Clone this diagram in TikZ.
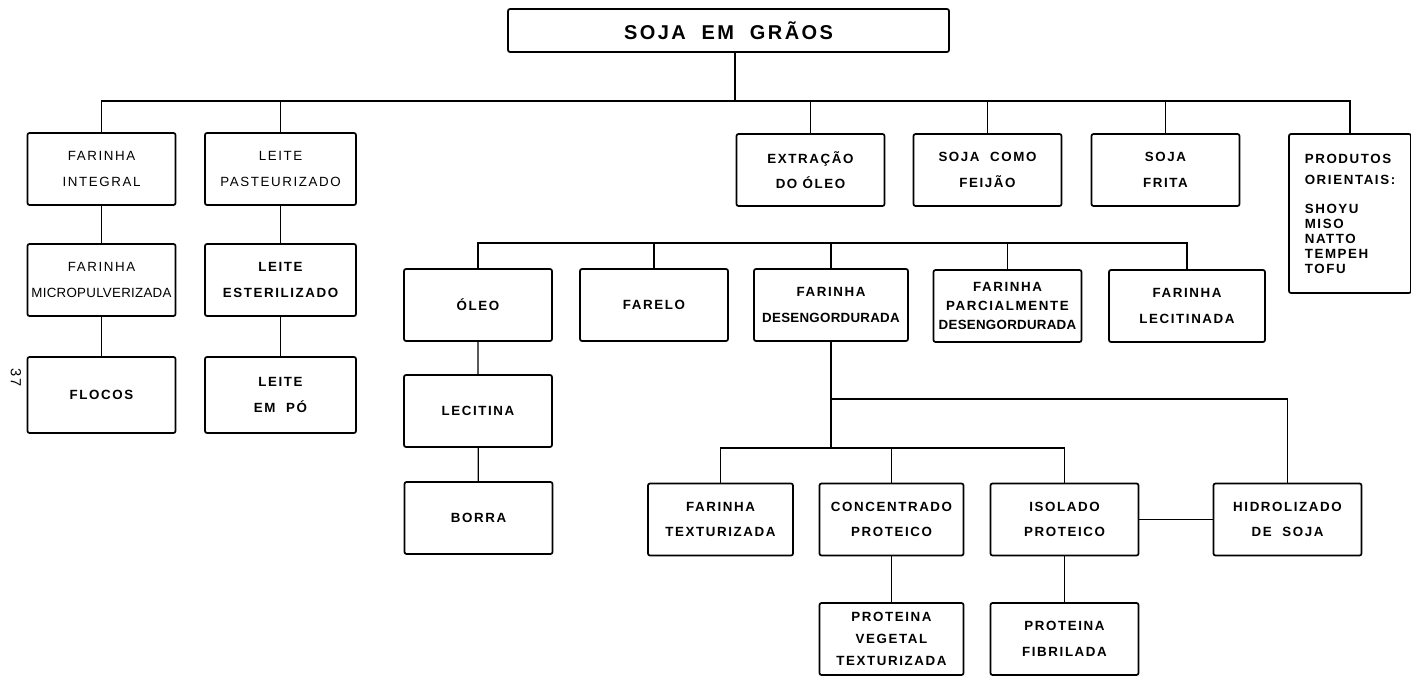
\documentclass[tikz,border=0pt]{standalone}
\usepackage{fontspec}
\setmainfont{Liberation Sans}[LetterSpace=12]
\newfontfamily\tightfont{Liberation Sans}[LetterSpace=2]

\tikzset{
  box/.style={draw, line width=1.3pt, rounded corners=1.5pt, minimum width=111pt, minimum height=54pt, inner sep=2pt, align=center, font=\fontsize{10}{19}\selectfont},
  bbox/.style={box, font=\fontsize{10}{19}\selectfont\bfseries},
  link/.style={line width=0.9pt},
}

\begin{document}
\begin{tikzpicture}[x=0.75pt,y=0.75pt,yscale=-1]
\useasboundingbox (0,0) rectangle (1411,677);

% Title
\node[bbox, minimum width=330.75pt, minimum height=32.25pt, font=\fontsize{15}{18}\selectfont\bfseries] (soja) at (728.5,30.5) {SOJA\ \ EM\ \ GRÃOS};

% First row
\node[box] (farInt) at (101.5,169) {FARINHA\\INTEGRAL};
\node[box, minimum width=113.25pt] (leitePast) at (280.5,169) {LEITE\\PASTEURIZADO};
\node[bbox] (extracao) at (810.5,170) {EXTRAÇÃO\\DO ÓLEO};
\node[bbox] (feijao) at (987.5,170) {SOJA\ \ COMO\\FEIJÃO};
\node[bbox] (frita) at (1165.5,170) {SOJA\\FRITA};
\node[bbox, minimum width=91.5pt, minimum height=119.25pt, align=left, font=\fontsize{10}{11.25}\selectfont\bfseries] (orient) at (1350,213.5) {PRODUTOS\\[4.5pt]ORIENTAIS:\\[10.5pt]SHOYU\\MISO\\NATTO\\TEMPEH\\TOFU};

% Left chains
\node[box] (micro) at (101.5,280) {FARINHA\\{\tightfont MICROPULVERIZADA}};
\node[bbox, minimum width=113.25pt] (leiteEst) at (280.5,280) {LEITE\\ESTERILIZADO};
\node[bbox, minimum height=57pt] (flocos) at (101.5,395) {FLOCOS};
\node[bbox, minimum width=113.25pt, minimum height=57pt] (leitePo) at (280.5,395) {LEITE\\EM\ \ PÓ};

% Oil extraction row
\node[bbox] (oleo) at (478,305) {ÓLEO};
\node[bbox] (farelo) at (654,305) {FARELO};
\node[bbox, minimum width=115.5pt] (farDes) at (831,305) {FARINHA\\{\tightfont DESENGORDURADA}};
\node[bbox, font=\fontsize{10}{14}\selectfont\bfseries] (farParc) at (1007.5,306) {FARINHA\\PARCIALMENTE\\{\tightfont DESENGORDURADA}};
\node[bbox, minimum width=117pt] (farLec) at (1187,306) {FARINHA\\LECITINADA};

% Oil chain
\node[bbox] (lecitina) at (478,411) {LECITINA};
\node[bbox] (borra) at (478.5,518) {BORRA};

% Protein products
\node[bbox, minimum width=108.75pt] (farText) at (720.5,519.5) {FARINHA\\TEXTURIZADA};
\node[bbox, minimum width=108pt] (concProt) at (891.5,519.5) {CONCENTRADO\\PROTEICO};
\node[bbox] (isoProt) at (1064.5,519.5) {ISOLADO\\PROTEICO};
\node[bbox] (hidro) at (1287.5,519.5) {HIDROLIZADO\\DE\ \ SOJA};
\node[bbox, minimum width=108pt, font=\fontsize{10}{16.5}\selectfont\bfseries] (protVeg) at (891.5,639) {PROTEINA\\VEGETAL\\TEXTURIZADA};
\node[bbox] (protFib) at (1064.5,639) {PROTEINA\\FIBRILADA};

% Page number
\node[rotate=-90, font=\fontsize{11}{12}\selectfont] (pagina) at (16,378) {37};

% Bus lines
\coordinate (busTop) at (735,101);
\coordinate (busOleo) at (478,243);
\coordinate (busHidro) at (831,399);
\coordinate (busProt) at (831,448);

\draw[link] (soja.south -| busTop) -- (busTop);
\draw[link] (farInt.north) |- (orient.north |- busTop) -- (orient.north);
\foreach \n in {leitePast,extracao,feijao,frita}
  \draw[link] (\n.north) -- (\n.north |- busTop);
\draw[link] (farInt) -- (micro) -- (flocos);
\draw[link] (leitePast) -- (leiteEst) -- (leitePo);

\draw[link] (oleo.north) |- (farLec.north |- busOleo) -- (farLec.north);
\foreach \n in {farelo,farDes,farParc}
  \draw[link] (\n.north) -- (\n.north |- busOleo);
\draw[link] (oleo) -- (lecitina) -- (borra);

\draw[link] (farDes.south) -- (busProt);
\draw[link] (busHidro) -| (hidro.north);
\draw[link] (farText.north) |- (isoProt.north |- busProt) -- (isoProt.north);
\draw[link] (concProt.north) -- (concProt.north |- busProt);
\draw[link] (concProt) -- (protVeg);
\draw[link] (isoProt) -- (protFib);
\draw[link] (isoProt) -- (hidro);

\end{tikzpicture}
\end{document}
